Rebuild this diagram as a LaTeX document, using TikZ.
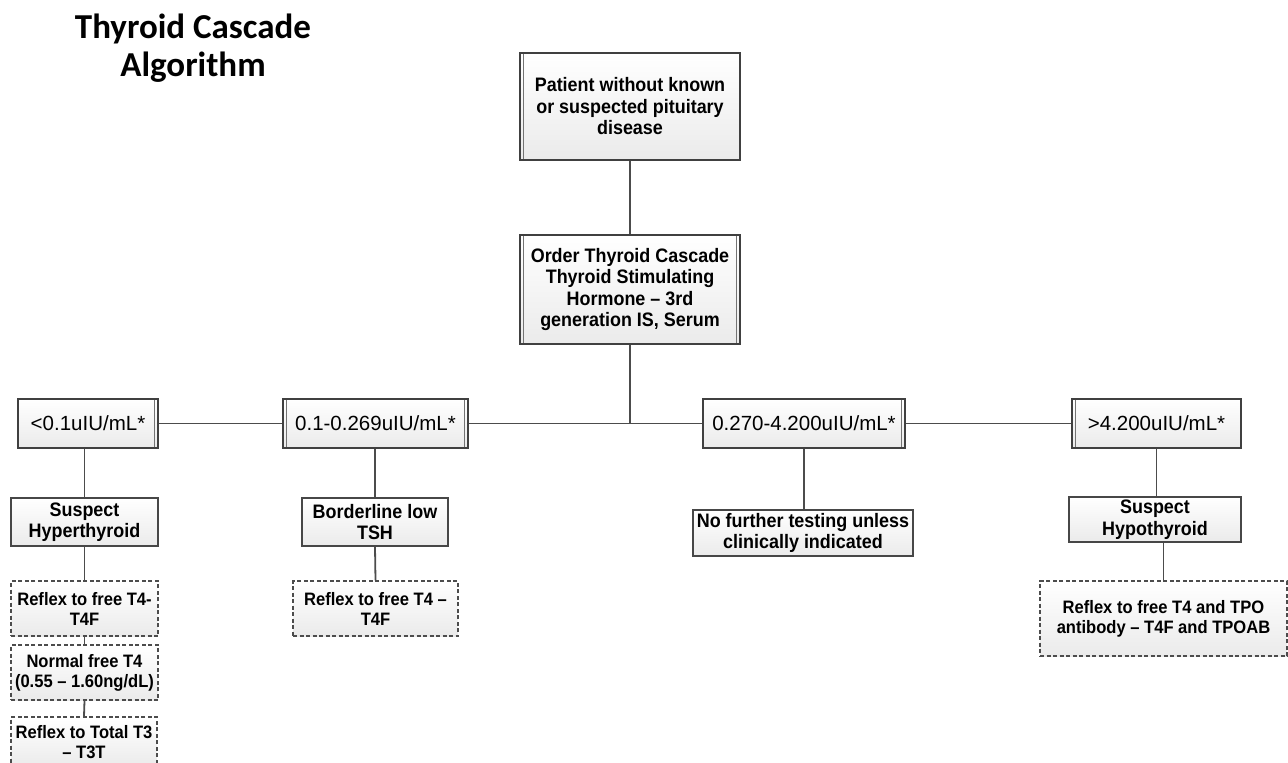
\documentclass[tikz,border=0pt]{standalone}
\usepackage{fontspec}
\setmainfont{Liberation Sans}
\newfontfamily\titlefont{Carlito}
\newfontfamily\boxfont{Liberation Sans}[FakeStretch=0.92]
\begin{document}
\begin{tikzpicture}[x=1pt,y=-1pt,
  conn/.style={draw=black!70, line width=1.8},
  shade/.style={top color=white, bottom color=black!8},
  headbox/.style={shade, draw=black!75, line width=2.6, inner sep=0, align=center,
    font=\boxfont\bfseries\fontsize{19.5}{21.5}\selectfont},
  lvlbox/.style={shade, draw=black!75, line width=2.6, inner sep=0,
    font=\fontsize{20.5}{24}\selectfont},
  resbox/.style={shade, draw=black!72, line width=1.7, inner sep=0, align=center,
    font=\boxfont\bfseries\fontsize{19.5}{21.5}\selectfont},
  dbox/.style={shade, draw=black!70, line width=1.3, dash pattern=on 4 off 2.5, inner sep=0, align=center,
    font=\boxfont\bfseries\fontsize{18}{20}\selectfont},
  innerL/.style={path picture={\draw[black!55, line width=0.9]
    ([xshift=3.6]path picture bounding box.north west) -- ([xshift=3.6]path picture bounding box.south west);}},
  innerR/.style={path picture={\draw[black!55, line width=0.9]
    ([xshift=-3.6]path picture bounding box.north east) -- ([xshift=-3.6]path picture bounding box.south east);}},
  innerLR/.style={path picture={\draw[black!55, line width=0.9]
    ([xshift=3.6]path picture bounding box.north west) -- ([xshift=3.6]path picture bounding box.south west)
    ([xshift=-3.6]path picture bounding box.north east) -- ([xshift=-3.6]path picture bounding box.south east);}},
  innerAll/.style={path picture={\draw[black!55, line width=0.9]
    ([shift={(3.6,-3.6)}]path picture bounding box.north west) rectangle ([shift={(-3.6,3.6)}]path picture bounding box.south east);}},
]
\useasboundingbox (0,0) rectangle (1288,763);
\clip (0,0) rectangle (1288,763);

\node[anchor=north, inner sep=0, align=center, font=\titlefont\bfseries\fontsize{35}{37.5}\selectfont] (title) at (193,14) {Thyroid Cascade\\Algorithm};

\node[headbox, innerL, minimum width=220, minimum height=107] (p) at (630,106.5)
  {Patient without known\\or suspected pituitary\\disease};
\node[headbox, innerAll, minimum width=220, minimum height=109] (o) at (630,289.5)
  {Order Thyroid Cascade\\Thyroid Stimulating\\Hormone – 3rd\\generation IS, Serum};

\node[lvlbox, innerR, minimum width=140, minimum height=49] (l1) at (88,423.5) {<0.1uIU/mL*};
\node[lvlbox, innerLR, minimum width=185, minimum height=49] (l2) at (375.5,423.5) {0.1-0.269uIU/mL*};
\node[lvlbox, innerR, minimum width=202, minimum height=49] (l3) at (804,423.5) {0.270-4.200uIU/mL*};
\node[lvlbox, innerL, minimum width=169, minimum height=49] (l4) at (1156.5,423.5) {>4.200uIU/mL*};

\node[resbox, minimum width=147, minimum height=48] (h1) at (84.5,522) {Suspect\\Hyperthyroid};
\node[resbox, minimum width=146, minimum height=48] (h2) at (375,522) {Borderline low\\TSH};
\node[resbox, minimum width=220, minimum height=46] (h3) at (803,533) {No further testing unless\\clinically indicated};
\node[resbox, minimum width=172, minimum height=45] (h4) at (1155,519.5) {Suspect\\Hypothyroid};

\node[dbox, minimum width=147, minimum height=55] (d1) at (84.5,608.5) {Reflex to free T4-\\T4F};
\node[dbox, minimum width=147, minimum height=55] (d2) at (84.5,672.5) {Normal free T4\\(0.55 – 1.60ng/dL)};
\node[dbox, minimum width=146, minimum height=50] (d3) at (84,742) {Reflex to Total T3\\– T3T};
\node[dbox, minimum width=165, minimum height=55] (d4) at (375.5,608.5) {Reflex to free T4 –\\T4F};
\node[dbox, minimum width=247, minimum height=75] (d5) at (1163.5,618.5) {Reflex to free T4 and TPO\\antibody – T4F and TPOAB};

\draw[conn] (p.south) -- (o.north);
\draw[conn] (o.south) -- (o.south |- l2.east);
\draw[conn] (l1.east) -- (l2.west);
\draw[conn] (l2.east) -- (l3.west);
\draw[conn] (l3.east) -- (l4.west);
\draw[conn] (l1.south -| h1.north) -- (h1.north);
\draw[conn] (h1.south) -- (d1.north);
\draw[conn] (d1.south) -- (d2.north);
\draw[conn] (d2.south) -- (d3.north);
\draw[conn] (h2.north |- l2.south) -- (h2.north);
\draw[conn] (h2.south) -- (d4.north);
\draw[conn] (l3.south) -- (l3.south |- h3.north);
\draw[conn] (l4.south) -- (l4.south |- h4.north);
\draw[conn] (d5.north |- h4.south) -- (d5.north);
\end{tikzpicture}
\end{document}
